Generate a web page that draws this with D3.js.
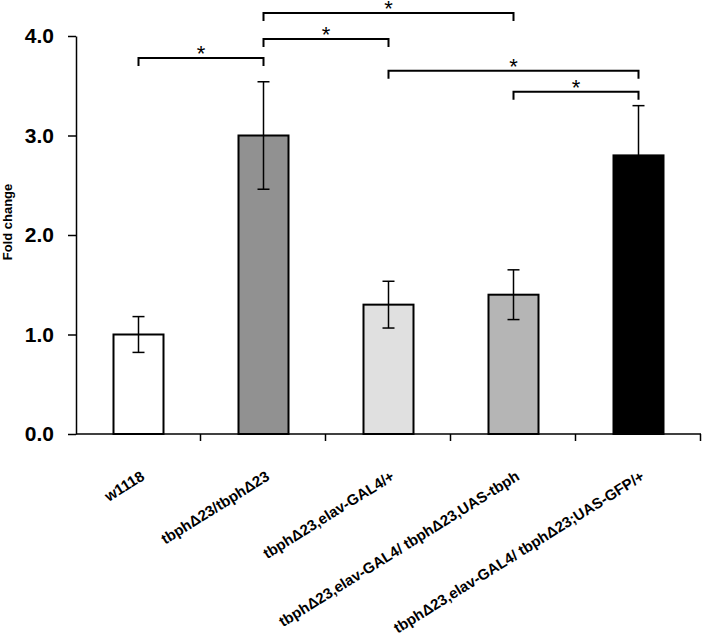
<!DOCTYPE html>
<html>
<head>
<meta charset="utf-8">
<script src="https://cdn.jsdelivr.net/npm/d3@7"></script>
<style>
  body { margin: 0; background: #fff; }
  svg { display: block; font-family: "Liberation Sans", Arial, sans-serif; }
</style>
</head>
<body>
<div id="chart"></div>
<script>
// Data
const groups = ["w1118", "tbphΔ23/tbphΔ23", "tbphΔ23,elav-GAL4/+",
  "tbphΔ23,elav-GAL4/ tbphΔ23,UAS-tbph", "tbphΔ23,elav-GAL4/ tbphΔ23;UAS-GFP/+"];
const foldChange = [1.0, 3.0, 1.3, 1.4, 2.8];
const errors = [0.18, 0.54, 0.235, 0.25, 0.5];
const barColors = ["#ffffff", "#919191", "#e0e0e0", "#b5b5b5", "#000000"];
const yTicks = [0, 1, 2, 3, 4];

// significance brackets: group a, group b, level in fold-change units
const sigFrom = [0, 1, 1, 2, 3];
const sigTo = [1, 2, 3, 4, 4];
const sigLevel = [3.78, 3.97, 4.23, 3.65, 3.44];

const width = 702, height = 642;
const margin = {top: 36, right: 1, bottom: 208, left: 76};

const svg = d3.select("#chart").append("svg")
    .attr("width", width)
    .attr("height", height);

const x = d3.scaleBand()
    .domain(d3.range(groups.length))
    .range([margin.left, width - margin.right])
    .paddingInner(0.6)
    .paddingOuter(0.3);

const y = d3.scaleLinear()
    .domain([0, 4])
    .range([height - margin.bottom, margin.top]);

const cx = i => x(i) + x.bandwidth() / 2;

// Y axis
const yAxis = svg.append("g")
    .attr("transform", "translate(" + margin.left + ",0)")
    .call(d3.axisLeft(y).tickValues(yTicks).tickFormat(d3.format(".1f")).tickSize(8).tickSizeOuter(0));
yAxis.select(".domain").attr("stroke-width", 1.5);
yAxis.selectAll(".tick line").attr("stroke-width", 1.5);
yAxis.selectAll(".tick text")
    .attr("x", -22)
    .attr("font-size", 21)
    .attr("font-weight", "bold")
    .attr("fill", "#000");

svg.append("text")
    .attr("transform", "translate(12,222) rotate(-90)")
    .attr("text-anchor", "middle")
    .attr("font-size", 13)
    .attr("font-weight", "bold")
    .text("Fold change");

// X axis: ticks at band boundaries
const xBase = y(0);
svg.append("line")
    .attr("x1", margin.left).attr("x2", width - margin.right)
    .attr("y1", xBase).attr("y2", xBase)
    .attr("stroke", "#000").attr("stroke-width", 1.5);
const step = x.step();
svg.selectAll(".xtick")
    .data(d3.range(1, groups.length + 1))
    .enter().append("line")
    .attr("class", "xtick")
    .attr("x1", d => margin.left + d * step - 0.5)
    .attr("x2", d => margin.left + d * step - 0.5)
    .attr("y1", xBase).attr("y2", xBase + 7)
    .attr("stroke", "#000").attr("stroke-width", 1.5);

// Bars
svg.selectAll(".bar")
    .data(foldChange)
    .enter().append("rect")
    .attr("class", "bar")
    .attr("x", (d, i) => x(i))
    .attr("y", d => y(d))
    .attr("width", x.bandwidth())
    .attr("height", d => y(0) - y(d))
    .attr("fill", (d, i) => barColors[i])
    .attr("stroke", "#000")
    .attr("stroke-width", 2);

// Error bars
const eb = svg.selectAll(".err")
    .data(foldChange)
    .enter().append("g")
    .attr("class", "err")
    .attr("stroke", "#000")
    .attr("stroke-width", 1.5);
eb.append("line")
    .attr("x1", (d, i) => cx(i)).attr("x2", (d, i) => cx(i))
    .attr("y1", (d, i) => y(d + errors[i]))
    .attr("y2", (d, i) => y(d - errors[i]));
eb.append("line")
    .attr("x1", (d, i) => cx(i) - 6).attr("x2", (d, i) => cx(i) + 6)
    .attr("y1", (d, i) => y(d + errors[i]))
    .attr("y2", (d, i) => y(d + errors[i]));
eb.append("line")
    .attr("x1", (d, i) => cx(i) - 6).attr("x2", (d, i) => cx(i) + 6)
    .attr("y1", (d, i) => y(d - errors[i]))
    .attr("y2", (d, i) => y(d - errors[i]));

// Group labels, rotated
svg.selectAll(".xlabel")
    .data(groups)
    .enter().append("text")
    .attr("class", "xlabel")
    .attr("text-anchor", "end")
    .attr("font-size", 15)
    .attr("font-weight", "bold")
    .attr("transform", (d, i) => "translate(" + (cx(i) + 7) + ",479) rotate(-32)")
    .text(d => d);

// Significance brackets
const sig = svg.selectAll(".sig")
    .data(sigLevel)
    .enter().append("g")
    .attr("class", "sig");
sig.append("path")
    .attr("fill", "none")
    .attr("stroke", "#000")
    .attr("stroke-width", 2)
    .attr("d", (d, i) => {
      const x1 = cx(sigFrom[i]), x2 = cx(sigTo[i]), yy = y(d);
      return "M" + x1 + "," + (yy + 8) + "V" + yy + "H" + x2 + "V" + (yy + 8);
    });
sig.append("text")
    .attr("x", (d, i) => (cx(sigFrom[i]) + cx(sigTo[i])) / 2)
    .attr("y", d => y(d) + 3)
    .attr("text-anchor", "middle")
    .attr("font-size", 22)
    .text("*");
</script>
</body>
</html>
